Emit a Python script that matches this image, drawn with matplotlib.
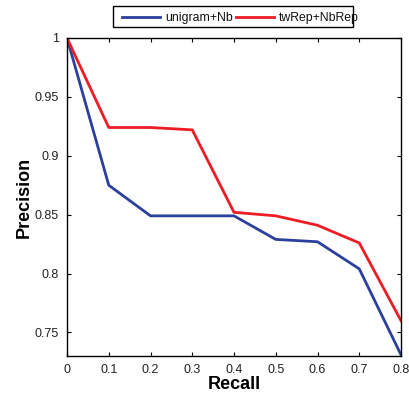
import matplotlib
matplotlib.use("Agg")
import matplotlib.pyplot as plt
from matplotlib.patches import Rectangle
from matplotlib.lines import Line2D

plt.rcParams['font.family'] = ['Liberation Sans', 'DejaVu Sans']

recall = [0, 0.1, 0.2, 0.3, 0.4, 0.5, 0.6, 0.7, 0.8]
unigram_nb = [1.0, 0.875, 0.849, 0.849, 0.849, 0.829, 0.827, 0.804, 0.731]
twrep_nbrep = [1.0, 0.924, 0.924, 0.922, 0.852, 0.849, 0.841, 0.826, 0.760]
xticks = [0, 0.1, 0.2, 0.3, 0.4, 0.5, 0.6, 0.7, 0.8]
yticks = [0.75, 0.8, 0.85, 0.9, 0.95, 1.0]
ytick_labels = ['0.75', '0.8', '0.85', '0.9', '0.95', '1']
series_names = ['unigram+Nb', 'twRep+NbRep']
series_colors = ['#2b3f9c', '#ee1c25']

W, H = 409, 395
fig = plt.figure(figsize=(W/100, H/100), dpi=100)
ax = fig.add_axes([67/W, 39/H, 334/W, 318/H])
ax.plot(recall, unigram_nb, color=series_colors[0], lw=2, label=series_names[0])
ax.plot(recall, twrep_nbrep, color=series_colors[1], lw=2, label=series_names[1])
ax.set_xlim(0, 0.8)
ax.set_ylim(0.73, 1.0)
ax.set_xticks(xticks)
ax.set_xticklabels([('%g' % v) for v in xticks])
ax.set_yticks(yticks)
ax.set_yticklabels(ytick_labels)
ax.tick_params(direction='in', top=True, right=True, labelsize=9, length=3, width=0.8,
               pad=6, labelcolor='#222222')
for s in ax.spines.values():
    s.set_linewidth(1.0)
ax.set_xlabel('Recall', fontsize=13, fontweight='bold', labelpad=0)
ax.set_ylabel('Precision', fontsize=13, fontweight='bold', labelpad=1.5)

# legend box (MATLAB style, text overflows the right edge)
fig.add_artist(Rectangle((113/W, 1 - 27/H), 240/W, 21/H, transform=fig.transFigure,
                         fill=False, edgecolor='black', lw=1.0))
ly = 1 - 16.5/H
ty = 1 - 17.5/H
fig.add_artist(Line2D([122/W, 160/W], [ly, ly], transform=fig.transFigure,
                      color=series_colors[0], lw=2))
fig.text(165/W, ty, series_names[0], fontsize=8.8, va='center', ha='left', color='#111111')
fig.add_artist(Line2D([236/W, 274/W], [ly, ly], transform=fig.transFigure,
                      color=series_colors[1], lw=2))
fig.text(279/W, ty, series_names[1], fontsize=8.8, va='center', ha='left', color='#111111')

fig.savefig('out.png', dpi=100)
